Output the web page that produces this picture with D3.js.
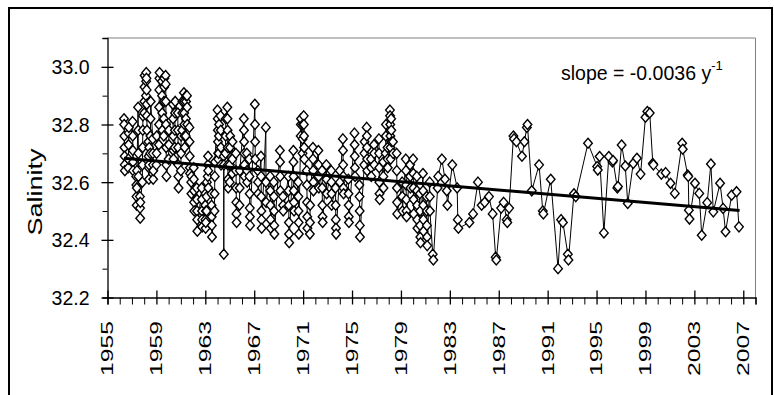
<!DOCTYPE html>
<html><head><meta charset="utf-8">
<script src="https://cdn.jsdelivr.net/npm/d3@7"></script>
<style>body{margin:0;background:#fff}svg{display:block}text{font-family:"Liberation Sans",Arial,sans-serif;fill:#000}</style>
</head><body><svg id="c" width="774" height="395"></svg>
<script>
// Dense survey period: each survey time holds several observations
const surveyTimes = [1956.35,1956.7,1957.05,1957.35,1957.5,1957.65,1957.85,1958.0,1958.15,1958.35,1958.5,1958.7,1959.0,1959.2,1959.45,1959.6,1959.75,1960.0,1960.35,1960.5,1960.75,1961.0,1961.1,1961.25,1961.4,1961.5,1961.7,1961.85,1962.05,1962.3,1962.7,1963.0,1963.1,1963.2,1963.5,1963.75,1964.0,1964.1,1964.25,1964.5,1964.65,1964.8,1965.0,1965.2,1965.5,1965.8,1966.15,1966.4,1966.6,1967.05,1967.3,1967.55,1967.95,1968.3,1968.6,1969.1,1969.35,1969.8,1970.2,1970.6,1970.8,1970.95,1971.05,1971.3,1971.55,1971.8,1972.25,1972.55,1972.9,1973.3,1973.65,1974.0,1974.25,1974.7,1975.2,1975.6,1976.0,1976.2,1976.55,1976.8,1977.2,1977.55,1977.75,1977.9,1978.1,1978.2,1978.35,1978.65,1979.1,1979.4,1979.75,1980.0,1980.3,1980.55,1980.8,1981.1,1981.35];
const surveyValues = [
 [32.82,32.80,32.76,32.72,32.69,32.66,32.64],[32.65,32.68,32.73,32.77,32.79],[32.81,32.76,32.71,32.67,32.64],
 [32.62,32.59,32.55,32.52,32.58,32.64],[32.86,32.78,32.70,32.62],[32.55,32.51,32.475,32.53],[32.60,32.66,32.72,32.78,32.83],
 [32.84,32.88,32.93,32.97],
 [32.90,32.95,32.98,32.96,32.92,32.87,32.83,32.78],[32.74,32.69,32.65,32.61,32.66,32.72],[32.70,32.76,32.82,32.88],
 [32.75,32.70,32.66,32.61,32.64],[32.66,32.70,32.76],
 [32.73,32.80,32.86,32.92,32.96,32.98],[32.95,32.90,32.84,32.78],[32.76,32.82,32.88,32.93,32.96],
 [32.97,32.94,32.88,32.80,32.72,32.66,32.62],[32.68,32.73,32.78],
 [32.87,32.82,32.76,32.71,32.68],[32.72,32.78,32.84,32.88],[32.84,32.78,32.72,32.66,32.62,32.58],[32.64,32.70,32.76],
 [32.78,32.84,32.88],[32.91,32.88,32.84,32.80,32.76,32.72],[32.76,32.82,32.88,32.90],
 [32.90,32.86,32.80],[32.79,32.74,32.69,32.65,32.63],[32.60,32.56,32.62],[32.65,32.61,32.57,32.53,32.50],[32.58,32.54,32.50,32.47,32.43],
 [32.58,32.54,32.50,32.47,32.445],[32.52,32.47,32.44,32.46,32.50],[32.50,32.55,32.60],[32.62,32.66,32.69,32.64,32.58],[32.56,32.52,32.48,32.45,32.41],
 [32.50,32.56,32.62,32.67],[32.85,32.82,32.78,32.74,32.70,32.68],[32.70,32.76,32.80],[32.83,32.78,32.72,32.66],[32.69,32.35,32.66],
 [32.70,32.76,32.82],
 [32.86,32.82,32.78,32.72,32.66,32.61,32.58],[32.60,32.66,32.72,32.76],[32.63,32.68,32.74],[32.70,32.64,32.58,32.53,32.49,32.46],[32.52,32.58,32.64],
 [32.82,32.78,32.74,32.70,32.66,32.62],[32.70,32.64,32.60],[32.68,32.62,32.56,32.51,32.48,32.45],[32.87,32.80,32.74,32.68],[32.64,32.60,32.56],
 [32.69,32.62,32.55,32.50,32.47,32.44],[32.79,32.60,32.53],[32.62,32.57,32.52,32.47,32.44],[32.60,32.55,32.50,32.45,32.42],
 [32.71,32.67,32.62,32.57],[32.55,32.52,32.50],[32.62,32.57,32.52,32.46,32.42,32.39],[32.71,32.67,32.62,32.57,32.53,32.50],
 [32.60,32.55,32.50,32.46,32.42],[32.76,32.80,32.82],[32.70,32.75,32.80],[32.83,32.80,32.76,32.72,32.68],[32.64,32.59,32.53,32.48,32.44],
 [32.42,32.46,32.52],[32.72,32.68,32.64,32.60,32.57],[32.71,32.66,32.62,32.58],[32.64,32.58,32.52,32.48,32.46],
 [32.66,32.61,32.56],[32.64,32.60,32.56,32.52],[32.58,32.52,32.47,32.44,32.42],[32.64,32.60],
 [32.75,32.71,32.66,32.62,32.58,32.56],[32.61,32.56,32.52,32.48,32.46],[32.77,32.73,32.69,32.65,32.62],[32.59,32.55,32.50,32.45,32.41],
 [32.66,32.70,32.74],[32.79,32.76,32.72,32.68,32.64],[32.68,32.65,32.62],[32.73,32.70,32.66],
 [32.75,32.70,32.65,32.60,32.56,32.54],[32.67,32.62,32.58],[32.70,32.76,32.80],[32.72,32.68,32.65],[32.85,32.83,32.80,32.76,32.72,32.68],
 [32.82,32.78,32.74],
 [32.74,32.70],[32.70,32.64,32.58,32.53,32.49],[32.60,32.55,32.50],[32.68,32.64,32.59,32.54,32.50,32.48],
 [32.66,32.62,32.58],[32.68,32.63,32.58,32.54,32.49],[32.62,32.57,32.52,32.47,32.44],[32.56,32.50,32.45,32.41,32.39],
 [32.63,32.57,32.52,32.47,32.43],[32.55,32.50,32.45,32.41,32.38],[32.60,32.55,32.50]
];
// Sparse period: single observations
const sparseYears = [1981.6,1981.65,1982.0,1982.05,1982.35,1982.6,1982.75,1982.8,1983.2,1983.6,1983.65,1983.7,1984.6,1984.9,1985.3,1985.6,1985.85,1986.2,1986.5,1986.75,1986.8,1987.2,1987.4,1987.65,1987.7,1987.85,1988.2,1988.25,1988.45,1988.9,1989.1,1989.3,1989.35,1989.7,1990.3,1990.6,1990.65,1991.25,1991.85,1992.1,1992.25,1992.65,1992.7,1993.15,1993.3,1994.3,1995.05,1995.1,1995.25,1995.6,1996.0,1996.3,1996.35,1996.7,1996.75,1997.05,1997.35,1997.55,1998.0,1998.3,1998.6,1999.0,1999.15,1999.35,1999.6,1999.65,2000.3,2000.65,2001.05,2001.4,2002.0,2002.05,2002.45,2002.5,2002.55,2002.6,2003.05,2003.4,2003.6,2004.05,2004.35,2004.55,2005.1,2005.35,2005.55,2006.05,2006.45,2006.65];
const sparseValues = [32.35,32.33,32.58,32.62,32.68,32.61,32.57,32.52,32.66,32.58,32.47,32.44,32.46,32.49,32.60,32.52,32.53,32.55,32.49,32.34,32.33,32.51,32.53,32.47,32.46,32.51,32.76,32.75,32.74,32.69,32.74,32.79,32.80,32.57,32.66,32.50,32.49,32.61,32.30,32.47,32.46,32.35,32.33,32.56,32.55,32.735,32.654,32.642,32.689,32.424,32.689,32.67,32.675,32.58,32.585,32.729,32.656,32.526,32.665,32.683,32.628,32.825,32.845,32.84,32.665,32.66,32.628,32.633,32.596,32.561,32.735,32.714,32.625,32.62,32.503,32.472,32.596,32.561,32.416,32.529,32.663,32.497,32.596,32.509,32.428,32.555,32.567,32.445];
// Linear trend (slope = -0.0036 per year)
const trendYears = [1956.35, 2006.7];
const trendValues = [32.683, 32.502];
const yTickLabels = ["32.2","32.4","32.6","32.8","33.0"];
const xTickLabels = ["1955","1959","1963","1967","1971","1975","1979","1983","1987","1991","1995","1999","2003","2007"];

const points = [];
surveyTimes.forEach((t,i)=>surveyValues[i].forEach((v,j)=>points.push({t:t+j*0.012,v})));
sparseYears.forEach((t,i)=>points.push({t,v:sparseValues[i]}));

const svg = d3.select("#c");
const x = d3.scaleLinear().domain([1955,2008]).range([107.5,755.5]);
const y = d3.scaleLinear().domain([32.2,33.1]).range([297.5,38]);

// outer frame
svg.append("path").attr("d","M9,395V8H772V395").attr("fill","none").attr("stroke","#000").attr("stroke-width",2);
// plot area frame (top/right gray)
svg.append("path").attr("d",`M${x(1955)},${y(33.1)}H${x(2008)}V${y(32.2)}`).attr("fill","none").attr("stroke","#808080").attr("stroke-width",1);

// Y axis
const yMajor = yTickLabels.map(Number);
const yMinor = d3.range(32.3,33.15,0.2);
const yAx = svg.append("g").attr("transform",`translate(${x(1955)},0)`)
  .call(d3.axisLeft(y).tickValues(yMajor).tickFormat((d,i)=>yTickLabels[i]).tickSize(5).tickPadding(13));
yAx.select(".domain").attr("stroke","#000").attr("stroke-width",1.3);
yAx.selectAll(".tick line").attr("x2",6).attr("x1",-6).attr("stroke-width",1.3);
yAx.selectAll(".tick text").attr("font-size",19.5).attr("font-family","Liberation Sans, Arial, sans-serif").attr("dy","0.36em");
svg.append("g").attr("transform",`translate(${x(1955)},0)`)
  .call(d3.axisLeft(y).tickValues(yMinor).tickFormat("").tickSize(5)).select(".domain").remove();

// X axis
const xMajor = xTickLabels.map(Number);
const xMinor = d3.range(1955,2009,1).filter(v=>!xMajor.includes(v));
const xAx = svg.append("g").attr("transform",`translate(0,${y(32.2)})`)
  .call(d3.axisBottom(x).tickValues(xMajor).tickFormat("").tickSize(7));
xAx.select(".domain").attr("stroke","#000").attr("stroke-width",1.3);
xAx.selectAll(".tick line").attr("y1",-7).attr("stroke-width",1.3);
svg.append("g").attr("transform",`translate(0,${y(32.2)})`)
  .call(d3.axisBottom(x).tickValues(xMinor).tickFormat("").tickSize(7)).select(".domain").remove();
svg.append("g").selectAll("text").data(xMajor).join("text")
  .attr("transform",d=>`translate(${x(d)+5.9},321) rotate(-90) scale(1.5,1)`)
  .attr("text-anchor","end").attr("font-size",16.5).text((d,i)=>xTickLabels[i]);

// Y title
svg.append("text").attr("transform","translate(42,192) rotate(-90) scale(1.35,1)")
  .attr("text-anchor","middle").attr("font-size",20).text("Salinity");

// series line
svg.append("path").datum(points)
  .attr("d",d3.line().x(d=>x(d.t)).y(d=>y(d.v)))
  .attr("fill","none").attr("stroke","#000").attr("stroke-width",1);
// markers
svg.append("g").selectAll("path").data(points).join("path")
  .attr("transform",d=>`translate(${x(d.t)},${y(d.v)})`)
  .attr("d","M0,-5L4.3,0L0,5L-4.3,0Z")
  .attr("fill","#fff").attr("stroke","#000").attr("stroke-width",1.4);

// trend line
svg.append("path").datum(trendYears.map((t,i)=>({t,v:trendValues[i]})))
  .attr("d",d3.line().x(d=>x(d.t)).y(d=>y(d.v)))
  .attr("stroke","#000").attr("stroke-width",3).attr("fill","none");

// slope annotation
const ann = svg.append("text").attr("x",561).attr("y",80).attr("font-size",19.5);
ann.append("tspan").text("slope = -0.0036 y");
ann.append("tspan").attr("font-size",13).attr("dy",-10).text("-1");
</script></body></html>
